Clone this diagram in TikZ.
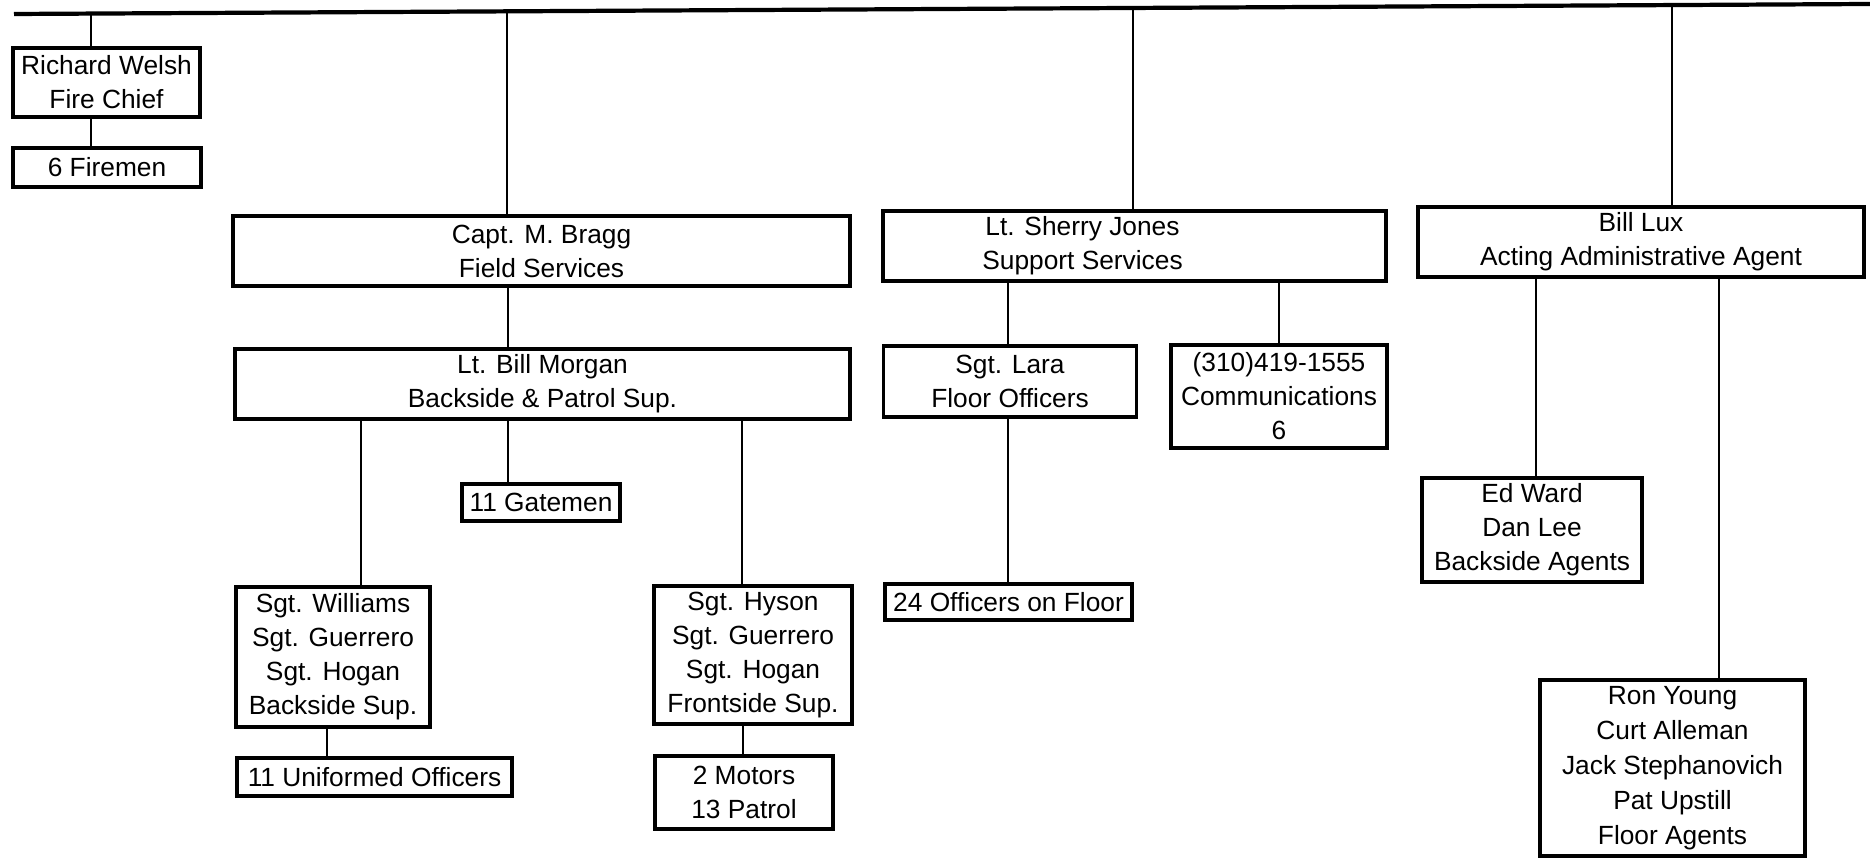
\documentclass[tikz,border=0pt]{standalone}
\usepackage{fontspec}
\setmainfont{Liberation Sans}
\newcommand\px{0.38pt}
\tikzset{
  box/.style 2 args={draw, line width=1.3pt, minimum width=#1*\px, minimum height=#2*\px,
    inner sep=0pt, align=center, font=\fontsize{10}{12.9}\selectfont},
  link/.style={line width=0.7pt},
  bus/.style={line width=1.6pt},
}
\begin{document}
\begin{tikzpicture}[x=\px, y=-\px]
        \useasboundingbox (0,0) rectangle (1870,860);
        \draw[bus] (14,14) -- (1870,4);
        % first row
        \node[box={187}{69}] (richard) at (106.5,82.5) {Richard Welsh\\Fire Chief};
        \node[box={188}{39}] (firemen) at (107,167.5) {6 Firemen};
        \node[box={617}{70}] (capt) at (541.5,251) {Capt. M. Bragg\\Field Services};
        \node[box={503}{70}] (sherry) at (1134.5,246) {};
        \node[align=center, font=\fontsize{10}{12.9}\selectfont] (sherrytext) at ([xshift=-52*\px]sherry.center) {Lt. Sherry Jones\\Support Services};
        \node[box={446}{70}] (lux) at (1641,242) {Bill Lux\\Acting Administrative Agent};
        % second row
        \node[box={615}{70}] (morgan) at (542.5,384) {Lt. Bill Morgan\\Backside \& Patrol Sup.};
        \node[box={253}{71}] (lara) at (1010,381.5) {Sgt. Lara\\Floor Officers};
        \node[box={216}{103}] (comm) at (1279,396.5) {(310)419-1555\\Communications\\6};
        \node[box={158}{37}] (gatemen) at (541,502.5) {11 Gatemen};
        \node[box={220}{104}] (edward) at (1532,530) {Ed Ward\\Dan Lee\\Backside Agents};
        % third row
        \node[box={194}{140}] (williams) at (333,657) {Sgt. Williams\\Sgt. Guerrero\\Sgt. Hogan\\Backside Sup.};
        \node[box={275}{38}] (uniformed) at (374.5,777) {11 Uniformed Officers};
        \node[box={198}{138}] (hyson) at (753,655) {Sgt. Hyson\\Sgt. Guerrero\\Sgt. Hogan\\Frontside Sup.};
        \node[box={178}{73}] (motors) at (744,792.5) {2 Motors\\13 Patrol};
        \node[box={247}{36}] (officers) at (1008.5,602) {24 Officers on Floor};
        \node[box={265}{176}, font=\fontsize{10}{13.3}\selectfont] (ron) at (1672.5,768) {Ron Young\\Curt Alleman\\Jack Stephanovich\\Pat Upstill\\Floor Agents};
        % drops from the top line
        \coordinate (dfire) at (91,13.6);
        \coordinate (dfield) at (507,11.3);
        \coordinate (dsupport) at (1133,8);
        \coordinate (dadmin) at (1672,5.1);
        \foreach \c/\n in {dfire/richard, dfield/capt, dsupport/sherry, dadmin/lux}
        \draw[link] (\c) -- (\c |- \n.north);
        % links between boxes
        \foreach \a/\b/\s in {richard/firemen/-15.5, capt/morgan/-33.5, sherry/lara/-126.5,
            sherry/comm/144.5, lux/edward/-105, lux/ron/78, morgan/williams/-181.5,
            morgan/gatemen/-34.5, morgan/hyson/199.5, williams/uniformed/-6,
            hyson/motors/-10, lara/officers/-2}
        \draw[link] ([xshift=\s*\px]\a.south) -- ([xshift=\s*\px]\a.south |- \b.north);
\end{tikzpicture}
\end{document}
